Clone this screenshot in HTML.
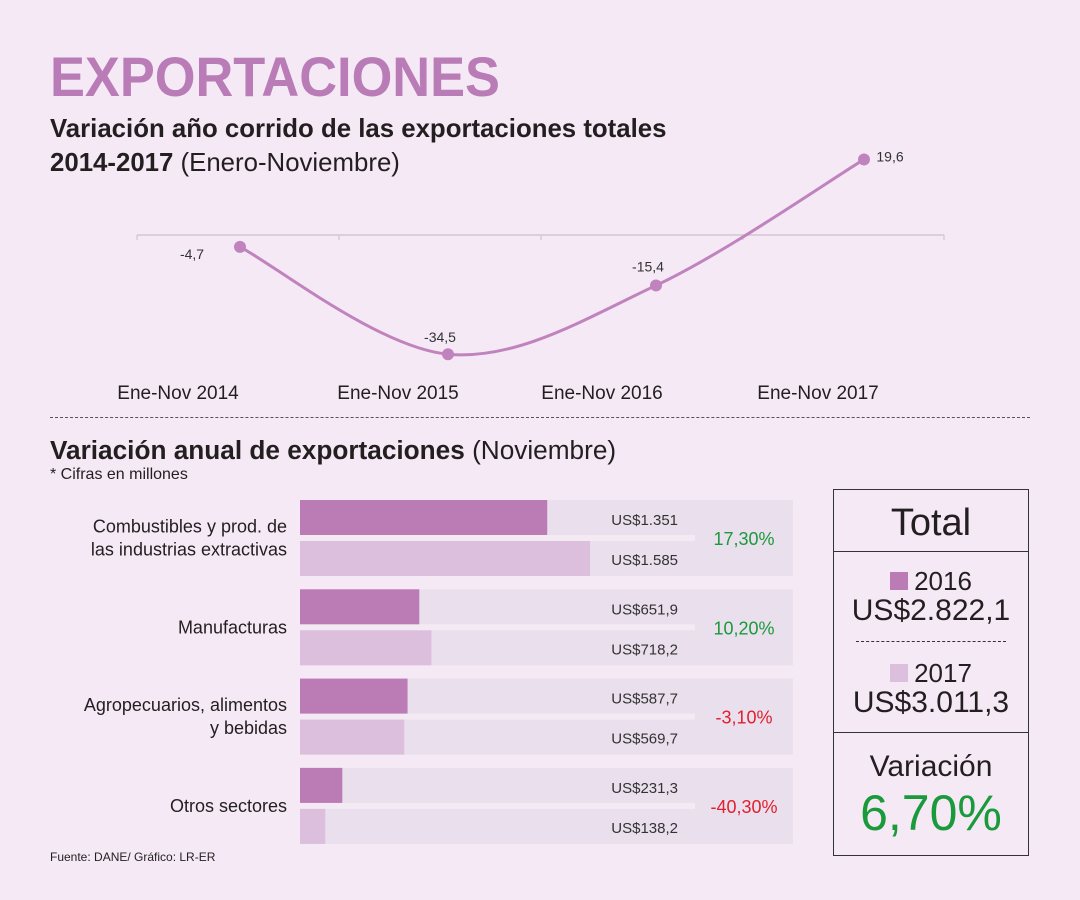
<!DOCTYPE html>
<html><head><meta charset="utf-8"><style>
body{margin:0;width:1080px;height:900px;background:#f4e9f5;font-family:"Liberation Sans",sans-serif;position:relative;overflow:hidden;color:#231f20}
.a{position:absolute;white-space:nowrap}
</style></head><body>
<div class="a" style="left:50px;top:44px;font-size:56px;font-weight:bold;color:#b97cb6;transform:scaleX(0.935);transform-origin:left top">EXPORTACIONES</div>
<div class="a" style="left:50px;top:115px;font-size:25.8px;font-weight:bold">Variación año corrido de las exportaciones totales</div>
<div class="a" style="left:50px;top:149px;font-size:25.8px"><b>2014-2017</b> (Enero-Noviembre)</div>
<svg class="a" style="left:0;top:0" width="1080" height="900" id="lc"></svg>
<div class="a" style="left:50px;top:417px;width:980px;border-top:1.5px dashed #555"></div>
<div class="a" style="left:50px;top:435px;font-size:26.2px"><b>Variación anual de exportaciones</b> (Noviembre)</div>
<div class="a" style="left:50px;top:466px;font-size:16px">* Cifras en millones</div>
<svg class="a" style="left:0;top:0" width="1080" height="900" id="bc"></svg>
<div class="a" style="left:50px;top:850px;font-size:12px">Fuente: DANE/ Gráfico: LR-ER</div>
<div class="a" style="left:833px;top:489px;width:194px;height:365px;border:1px solid #333">
 <div class="a" style="left:0;top:12px;width:194px;text-align:center;font-size:38px">Total</div>
 <div class="a" style="left:0;top:61px;width:194px;border-top:1px solid #333"></div>
 <div class="a" style="left:0;top:76px;width:194px;text-align:center;font-size:26px"><span style="display:inline-block;width:18px;height:18px;background:#bb7bb4;margin-right:6px"></span>2016</div>
 <div class="a" style="left:0;top:104px;width:194px;text-align:center;font-size:30px">US$2.822,1</div>
 <div class="a" style="left:22px;top:151px;width:150px;border-top:1px dashed #333"></div>
 <div class="a" style="left:0;top:168px;width:194px;text-align:center;font-size:26px"><span style="display:inline-block;width:18px;height:18px;background:#dcbedd;margin-right:6px"></span>2017</div>
 <div class="a" style="left:0;top:196px;width:194px;text-align:center;font-size:30px">US$3.011,3</div>
 <div class="a" style="left:0;top:242px;width:194px;border-top:1px solid #333"></div>
 <div class="a" style="left:0;top:260px;width:194px;text-align:center;font-size:30px">Variación</div>
 <div class="a" style="left:0;top:294px;width:194px;text-align:center;font-size:50px;color:#1a9a3a">6,70%</div>
</div>
<script>
const years=['Ene-Nov 2014','Ene-Nov 2015','Ene-Nov 2016','Ene-Nov 2017'];
const yearValues=[-4.7,-34.5,-15.4,19.6];
const yearLabels=['-4,7','-34,5','-15,4','19,6'];
const sectors=['Combustibles y prod. de|las industrias extractivas','Manufacturas','Agropecuarios, alimentos|y bebidas','Otros sectores'];
const values2016=[1351,651.9,587.7,231.3];
const values2017=[1585,718.2,569.7,138.2];
const labels2016=['US$1.351','US$651,9','US$587,7','US$231,3'];
const labels2017=['US$1.585','US$718,2','US$569,7','US$138,2'];
const changes=['17,30%','10,20%','-3,10%','-40,30%'];
const NS='http://www.w3.org/2000/svg';
function mk(p,t,a){const e=document.createElementNS(NS,t);for(const k in a)e.setAttribute(k,a[k]);p.appendChild(e);return e;}
const lc=document.getElementById('lc');
const xp=i=>240+i*208, yp=v=>230-v*3.6;
mk(lc,'line',{x1:137,y1:235,x2:944,y2:235,stroke:'#c9c0cb','stroke-width':1.2});
[137,339,541,743,944].forEach(x=>mk(lc,'line',{x1:x,y1:235,x2:x,y2:240,stroke:'#c9c0cb'}));
const pts=yearValues.map((v,i)=>[xp(i),yp(v)]);
let d='M'+pts[0];
for(let i=0;i<pts.length-1;i++){const p0=pts[Math.max(0,i-1)],p1=pts[i],p2=pts[i+1],p3=pts[Math.min(pts.length-1,i+2)];
 d+=` C${p1[0]+(p2[0]-p0[0])/6},${p1[1]+(p2[1]-p0[1])/6} ${p2[0]-(p3[0]-p1[0])/6},${p2[1]-(p3[1]-p1[1])/6} ${p2[0]},${p2[1]}`;}
const path=mk(lc,'path',{d:d,fill:'none',stroke:'#c183bd','stroke-width':3});


const off=[[-48,12],[-8,-12],[-8,-14],[26,2]];
pts.forEach((p,i)=>{
 const c=mk(lc,'circle',{cx:p[0],cy:p[1],r:6,fill:'#c183bd'});
 
 
 const t=mk(lc,'text',{x:p[0]+off[i][0],y:p[1]+off[i][1],'font-size':14,'text-anchor':'middle',fill:'#333'});t.textContent=yearLabels[i];
 
 
 const l=mk(lc,'text',{x:[178,398,602,818][i],y:399,'font-size':19,'text-anchor':'middle',fill:'#231f20'});l.textContent=years[i];
 
 
});
const bc=document.getElementById('bc');
const bw=v=>v*0.183;
sectors.forEach((s,i)=>{
 const y=500+i*89.3;
 const bg=mk(bc,'rect',{x:300,y:y,width:493,height:76,fill:'#eadfec'});
 
 
 mk(bc,'rect',{x:300,y:y+35,width:395,height:6,fill:'#f4eaf4'});
 const b1=mk(bc,'rect',{x:300,y:y,width:bw(values2016[i]),height:35,fill:'#bb7bb4'});
 
 
 const b2=mk(bc,'rect',{x:300,y:y+41,width:bw(values2017[i]),height:35,fill:'#dcbedd'});
 
 
 const t1=mk(bc,'text',{x:678,y:y+25,'font-size':15,'text-anchor':'end',fill:'#333'});t1.textContent=labels2016[i];
 
 
 const t2=mk(bc,'text',{x:678,y:y+65,'font-size':15,'text-anchor':'end',fill:'#333'});t2.textContent=labels2017[i];
 
 
 const ch=mk(bc,'text',{x:744,y:y+45,'font-size':18,'text-anchor':'middle',fill:changes[i][0]=='-'?'#e0202e':'#1a9a3a'});ch.textContent=changes[i];
 
 
 const lines=s.split('|');
 lines.forEach((ln,j)=>{const t=mk(bc,'text',{x:287,y:y+44+(j-(lines.length-1)/2)*23,'font-size':18,'text-anchor':'end',fill:'#231f20'});t.textContent=ln;
  
  });
});
</script>
</body></html>
